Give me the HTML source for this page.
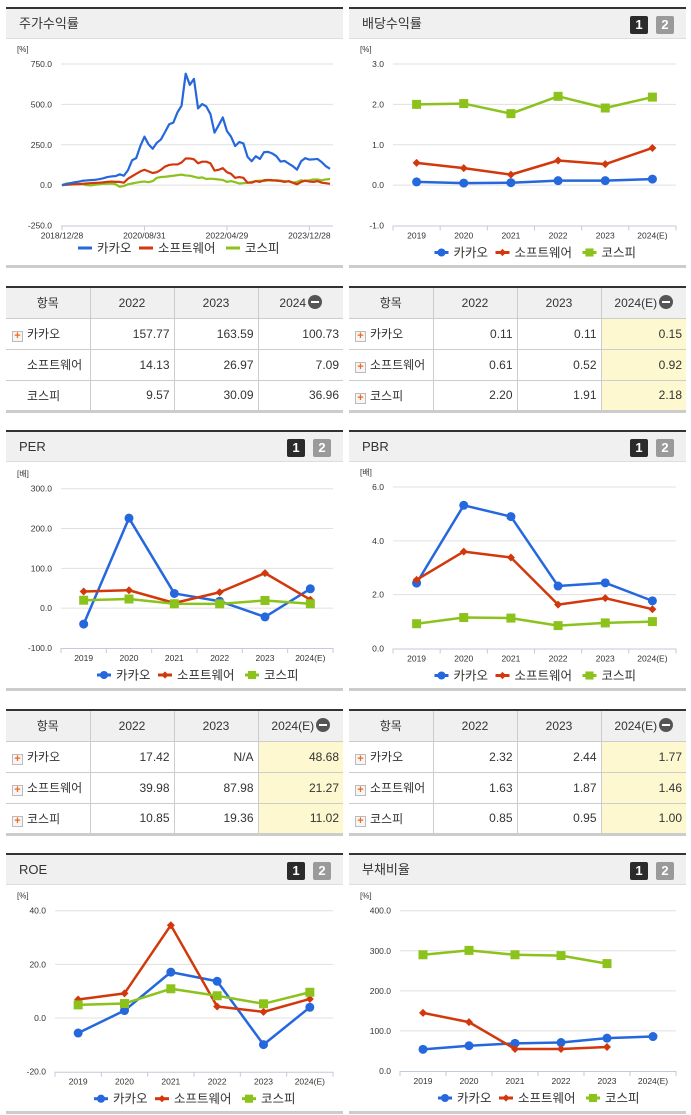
<!DOCTYPE html>
<html><head><meta charset="utf-8">
<style>
*{margin:0;padding:0;box-sizing:border-box}
body{width:691px;height:1115px;background:#fff;position:relative;overflow:hidden;font-family:"Liberation Sans","Noto Sans CJK KR",sans-serif;color:#333}
.panel{position:absolute;border-top:2px solid #333;background:#fff}
.hdr{position:absolute;left:0;right:0;top:0;height:30px;background:#f0f0f0;border-bottom:1px solid #ddd;font-size:13px;line-height:30px;padding-left:13px}
.btn{position:absolute;top:7px;width:18px;height:18px;color:#fff;font-weight:bold;font-size:13px;line-height:18px;text-align:center;border-radius:2px}
.b1{background:#2b2b2b}.b2{background:#9a9a9a}
.pbot{position:absolute;height:3px;background:#ccc}
table{position:absolute;border-collapse:collapse;font-size:12px;table-layout:fixed;border-top:2px solid #333;border-bottom:3px solid #ccc}
td,th{border:1px solid #ccc;height:31px;padding:0 4px;font-weight:normal}
tr td:first-child,tr th:first-child{border-left:none}
tr td:last-child,tr th:last-child{border-right:none}
th{background:#f0f0f0;text-align:center}
td{text-align:right}
td.nm{text-align:left;padding-left:6px}
td.hl{background:#fdf8cf}
.plus{display:inline-block;width:11px;height:11px;border:1px solid #bbb;background:#f6f6f6;color:#f26a1b;font-size:11px;line-height:9px;text-align:center;font-weight:bold;vertical-align:-1px;margin-right:4px}
.sp{display:inline-block;width:15px}
.minus{display:inline-block;width:14px;height:14px;border-radius:7px;background:#555;vertical-align:-2px;position:relative;margin-left:2px}
.minus:after{content:"";position:absolute;left:3px;right:3px;top:6px;height:2px;background:#fff}
svg{position:absolute;left:0;top:0}
</style></head><body>

<div class="panel" style="left:6px;top:7px;width:337px;height:260px"><div class="hdr">주가수익률</div></div>
<div class="pbot" style="left:6px;top:265px;width:337px"></div>
<div class="panel" style="left:349px;top:7px;width:337px;height:260px"><div class="hdr">배당수익률</div>
<div class="btn b1" style="left:281px">1</div><div class="btn b2" style="left:307px">2</div></div>
<div class="pbot" style="left:349px;top:265px;width:337px"></div>

<div class="panel" style="left:6px;top:430px;width:337px;height:260px"><div class="hdr">PER</div>
<div class="btn b1" style="left:281px">1</div><div class="btn b2" style="left:307px">2</div></div>
<div class="pbot" style="left:6px;top:688px;width:337px"></div>
<div class="panel" style="left:349px;top:430px;width:337px;height:260px"><div class="hdr">PBR</div>
<div class="btn b1" style="left:281px">1</div><div class="btn b2" style="left:307px">2</div></div>
<div class="pbot" style="left:349px;top:688px;width:337px"></div>

<div class="panel" style="left:6px;top:853px;width:337px;height:260px"><div class="hdr">ROE</div>
<div class="btn b1" style="left:281px">1</div><div class="btn b2" style="left:307px">2</div></div>
<div class="pbot" style="left:6px;top:1111px;width:337px"></div>
<div class="panel" style="left:349px;top:853px;width:337px;height:260px"><div class="hdr">부채비율</div>
<div class="btn b1" style="left:281px">1</div><div class="btn b2" style="left:307px">2</div></div>
<div class="pbot" style="left:349px;top:1111px;width:337px"></div>

<table style="left:6px;top:286px;width:337px">
<colgroup><col style="width:84px"><col style="width:84px"><col style="width:84px"><col></colgroup>
<tr><th>항목</th><th>2022</th><th>2023</th><th>2024<span class="minus"></span></th></tr>
<tr><td class="nm"><span class="plus">+</span>카카오</td><td>157.77</td><td>163.59</td><td>100.73</td></tr>
<tr><td class="nm"><span class="sp"></span>소프트웨어</td><td>14.13</td><td>26.97</td><td>7.09</td></tr>
<tr><td class="nm"><span class="sp"></span>코스피</td><td>9.57</td><td>30.09</td><td>36.96</td></tr>
</table>
<table style="left:349px;top:286px;width:337px">
<colgroup><col style="width:84px"><col style="width:84px"><col style="width:84px"><col></colgroup>
<tr><th>항목</th><th>2022</th><th>2023</th><th>2024(E)<span class="minus"></span></th></tr>
<tr><td class="nm"><span class="plus">+</span>카카오</td><td>0.11</td><td>0.11</td><td class="hl">0.15</td></tr>
<tr><td class="nm"><span class="plus">+</span>소프트웨어</td><td>0.61</td><td>0.52</td><td class="hl">0.92</td></tr>
<tr><td class="nm"><span class="plus">+</span>코스피</td><td>2.20</td><td>1.91</td><td class="hl">2.18</td></tr>
</table>
<table style="left:6px;top:709px;width:337px">
<colgroup><col style="width:84px"><col style="width:84px"><col style="width:84px"><col></colgroup>
<tr><th>항목</th><th>2022</th><th>2023</th><th>2024(E)<span class="minus"></span></th></tr>
<tr><td class="nm"><span class="plus">+</span>카카오</td><td>17.42</td><td>N/A</td><td class="hl">48.68</td></tr>
<tr><td class="nm"><span class="plus">+</span>소프트웨어</td><td>39.98</td><td>87.98</td><td class="hl">21.27</td></tr>
<tr><td class="nm"><span class="plus">+</span>코스피</td><td>10.85</td><td>19.36</td><td class="hl">11.02</td></tr>
</table>
<table style="left:349px;top:709px;width:337px">
<colgroup><col style="width:84px"><col style="width:84px"><col style="width:84px"><col></colgroup>
<tr><th>항목</th><th>2022</th><th>2023</th><th>2024(E)<span class="minus"></span></th></tr>
<tr><td class="nm"><span class="plus">+</span>카카오</td><td>2.32</td><td>2.44</td><td class="hl">1.77</td></tr>
<tr><td class="nm"><span class="plus">+</span>소프트웨어</td><td>1.63</td><td>1.87</td><td class="hl">1.46</td></tr>
<tr><td class="nm"><span class="plus">+</span>코스피</td><td>0.85</td><td>0.95</td><td class="hl">1.00</td></tr>
</table>

<svg id="charts" width="691" height="1115"></svg>

<script>
const categories = ["2019","2020","2021","2022","2023","2024(E)"];
const seriesNames = ["카카오","소프트웨어","코스피"];

const divKakao = [0.08,0.05,0.06,0.11,0.11,0.15];
const divSw = [0.55,0.42,0.26,0.61,0.52,0.92];
const divKospi = [2.00,2.02,1.77,2.20,1.91,2.18];
const divTicks = [3,2,1,0,-1];

const perKakao = [-40,226,37,17.42,-22,48.68];
const perSw = [42,45,13,39.98,87.98,21.27];
const perKospi = [20,23,11,10.85,19.36,11.02];
const perTicks = [300,200,100,0,-100];

const pbrKakao = [2.43,5.32,4.90,2.32,2.44,1.77];
const pbrSw = [2.55,3.60,3.38,1.63,1.87,1.46];
const pbrKospi = [0.92,1.15,1.13,0.85,0.95,1.00];
const pbrTicks = [6,4,2,0];

const roeKakao = [-5.6,2.8,17.1,13.7,-9.9,4.0];
const roeSw = [6.9,9.2,34.6,4.3,2.3,7.1];
const roeKospi = [4.9,5.4,10.9,8.3,5.3,9.6];
const roeTicks = [40,20,0,-20];

const debtKakao = [54,63,69,71,82,86];
const debtSw = [145,122,55,55,60,null];
const debtKospi = [290,301,290,288,268,null];
const debtTicks = [400,300,200,100,0];

const stockKakao = [0,6,12,17,21,27,29,31,33,37,42,50,54,56,67,58,92,154,167,242,300,252,225,262,283,329,377,387,450,492,690,621,658,475,502,487,440,325,371,419,335,300,242,267,258,175,148,179,162,204,206,196,179,146,150,133,117,96,148,167,158,160,162,142,117,101];
const stockSw = [0,2,4,5,6,8,10,12,14,15,17,20,22,20,20,15,40,55,70,85,95,85,75,80,95,115,125,128,128,140,165,165,160,135,145,145,135,90,95,105,80,70,45,50,45,15,15,25,20,30,32,30,28,25,20,25,15,5,20,28,22,20,25,15,12,8];
const stockKospi = [0,10,12,8,5,5,0,-2,2,5,8,8,10,5,-10,-5,5,10,15,20,22,18,25,45,50,52,55,58,62,65,60,58,52,45,48,38,40,38,35,32,20,25,18,10,12,15,20,25,28,25,30,28,30,28,25,22,15,20,30,25,30,35,35,30,35,38];
const stockTicks = [750,500,250,0,-250];
const stockDateLabels = ["2018/12/28","2020/08/31","2022/04/29","2023/12/28"];
const stockDateMonths = [0,20,40,60];

const NS="http://www.w3.org/2000/svg";
const svg=document.getElementById('charts');
const COLORS=["#2567dd","#d2380c","#8cc21c"];
function mk(tag,attrs,parent){const e=document.createElementNS(NS,tag);for(const k in attrs)e.setAttribute(k,attrs[k]);(parent||svg).appendChild(e);return e;}

function axes(cfg,ticks,unit){
  const g=mk('g',{});
  
  
  const u=mk('text',{x:cfg.px+11,y:cfg.y(ticks[0])-12,'font-size':8,fill:'#333'},g);u.textContent=unit;
  
  
  ticks.forEach((t,i)=>{
    const y=cfg.y(t);
    if(i<ticks.length-1){const gl=mk('line',{x1:cfg.x0,x2:cfg.x1,y1:y,y2:y,stroke:'#e0e0e0','stroke-width':1},g);
    
    }
    const tx=mk('text',{x:cfg.x0-9,y:y+3,'font-size':8.5,fill:'#333','text-anchor':'end'},g);
    tx.textContent=t.toFixed(1);
    
    
  });
  const yb=cfg.y(ticks[ticks.length-1]);
  mk('line',{x1:cfg.x0,x2:cfg.x1,y1:yb+0.5,y2:yb+0.5,stroke:'#c3cad8','stroke-width':1},g);
  return yb;
}
function legend(cx,y,lineStyle){
  const g=mk('g',{});
  
  
  const widths=[61,87,52];
  let total=widths.reduce((a,b)=>a+b,0);let x=cx-total/2;
  seriesNames.forEach((n,i)=>{
    const e=mk('g',{},g);
    
    
    mk('line',{x1:x,x2:x+14,y1:y,y2:y,stroke:COLORS[i],'stroke-width':3},e);
    if(!lineStyle) marker(e,i,x+7,y,0.9);
    const t=mk('text',{x:x+19,y:y+4.5,'font-size':12.5,fill:'#333'},e);t.textContent=n;
    x+=widths[i];
  });
}
function marker(g,i,x,y,s){
  s=s||1;
  if(i===0) return mk('circle',{cx:x,cy:y,r:4.5*s,fill:COLORS[0]},g);
  if(i===1){const d=4*s;return mk('polygon',{points:`${x},${y-d} ${x+d},${y} ${x},${y+d} ${x-d},${y}`,fill:COLORS[1]},g);}
  const h=4.5*s;return mk('rect',{x:x-h,y:y-h,width:2*h,height:2*h,fill:COLORS[2]},g);
}
function catChart(cfg,ticks,unit,data){
  const yb=axes(cfg,ticks,unit);
  const bw=(cfg.x1-cfg.x0)/categories.length;
  const cx=i=>cfg.x0+bw*(i+0.5);
  categories.forEach((c,i)=>{
    mk('line',{x1:cfg.x0+bw*i,x2:cfg.x0+bw*i,y1:yb,y2:yb+5,stroke:'#c3cad8'});
    const t=mk('text',{x:cx(i),y:yb+13,'font-size':8.5,fill:'#333','text-anchor':'middle'});t.textContent=c;
    
    
  });
  mk('line',{x1:cfg.x1,x2:cfg.x1,y1:yb,y2:yb+5,stroke:'#c3cad8'});
  data.forEach((arr,si)=>{
    const g=mk('g',{});
    
    
    let pts=[];arr.forEach((v,i)=>{if(v!==null)pts.push([cx(i),cfg.y(v)]);});
    mk('polyline',{points:pts.map(p=>p.join(',')).join(' '),fill:'none',stroke:COLORS[si],'stroke-width':2.5,'stroke-linejoin':'round'},g);
    pts.forEach(p=>{const m=marker(g,si,p[0],p[1]);
      
      });
  });
  legend((cfg.x0+cfg.x1)/2,yb+27,false);
}
function lin(v0,p0,v1,p1){return v=>p0+(v-v0)*(p1-p0)/(v1-v0);}

(function(){
  const cfg={name:'stock-return',x0:61,x1:333,px:6,y:lin(750,64,-250,225.5)};
  const yb=axes(cfg,stockTicks,'[%]');
  const xm=m=>62+m*4.123;
  stockDateLabels.forEach((l,i)=>{
    const x=xm(stockDateMonths[i]);
    mk('line',{x1:x,x2:x,y1:yb,y2:yb+5,stroke:'#c3cad8'});
    const t=mk('text',{x:x,y:yb+13,'font-size':8.5,fill:'#333','text-anchor':'middle'});t.textContent=l;
    
    
  });
  [stockKospi,stockSw,stockKakao].forEach((arr,k)=>{
    const si=2-k;
    const p=mk('polyline',{points:arr.map((v,m)=>xm(m)+','+cfg.y(v)).join(' '),fill:'none',stroke:COLORS[si],'stroke-width':2.2,'stroke-linejoin':'round'});
    
    
  });
  legend(178,248,true);
})();

catChart({name:'dividend',x0:393,x1:676,px:349,y:lin(3,64,-1,225.5)},divTicks,'[%]',[divKakao,divSw,divKospi]);
catChart({name:'per',x0:61,x1:333,px:6,y:lin(300,488.7,-100,648)},perTicks,'[배]',[perKakao,perSw,perKospi]);
catChart({name:'pbr',x0:393,x1:676,px:349,y:lin(6,487,0,648.5)},pbrTicks,'[배]',[pbrKakao,pbrSw,pbrKospi]);
catChart({name:'roe',x0:55,x1:333,px:6,y:lin(40,910.7,-20,1071.7)},roeTicks,'[%]',[roeKakao,roeSw,roeKospi]);
catChart({name:'debt-ratio',x0:400,x1:676,px:349,y:lin(400,910.7,0,1071)},debtTicks,'[%]',[debtKakao,debtSw,debtKospi]);
</script>
</body></html>
